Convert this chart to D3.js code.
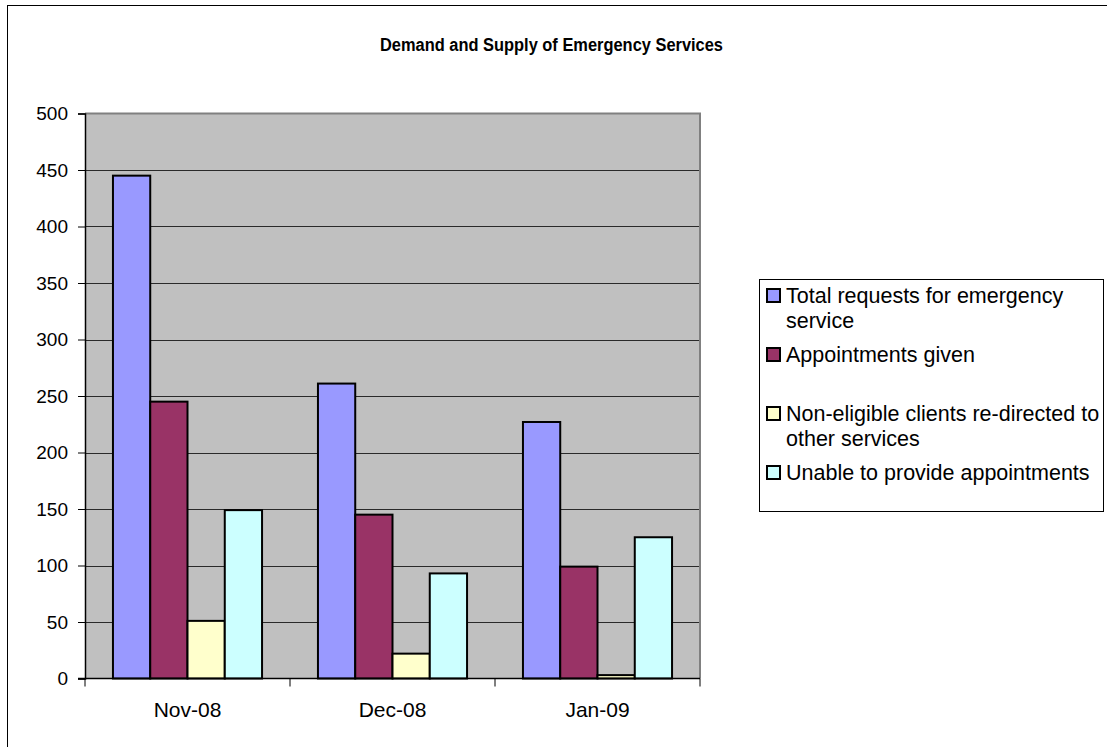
<!DOCTYPE html>
<html>
<head>
<meta charset="utf-8">
<script src="https://cdn.jsdelivr.net/npm/d3@7"></script>
<style>
  html, body { margin: 0; padding: 0; background: #fff; }
  svg { display: block; }
  text { font-family: "Liberation Sans", Arial, sans-serif; fill: #000; }
</style>
</head>
<body>
<svg id="chart" width="1107" height="747"></svg>
<script>
// Monthly figures for the emergency service
const categories = ["Nov-08", "Dec-08", "Jan-09"];
const seriesNames = [
  "Total requests for emergency service",
  "Appointments given",
  "Non-eligible clients re-directed to other services",
  "Unable to provide appointments"
];
const legendLines = [
  ["Total requests for emergency", "service"],
  ["Appointments given"],
  ["Non-eligible clients re-directed to", "other services"],
  ["Unable to provide appointments"]
];
const totalRequests = [445, 261, 227];
const appointmentsGiven = [245, 145, 99];
const nonEligible = [51, 22, 3];
const unableToProvide = [149, 93, 125];
const yTicks = [0, 50, 100, 150, 200, 250, 300, 350, 400, 450, 500];
const colors = ["#9999FF", "#993366", "#FFFFCC", "#CCFFFF"];

const seriesValues = [totalRequests, appointmentsGiven, nonEligible, unableToProvide];

const svg = d3.select("#chart");

// Outer chart frame
svg.append("rect")
  .attr("x", 7.5).attr("y", 5.5)
  .attr("width", 1130).attr("height", 780)
  .attr("fill", "#fff").attr("stroke", "#000").attr("stroke-width", 1);

// Title
svg.append("text")
  .attr("x", 551.5).attr("y", 51)
  .attr("text-anchor", "middle")
  .attr("font-weight", "bold")
  .attr("font-size", 17.5)
  .attr("textLength", 343)
  .attr("lengthAdjust", "spacingAndGlyphs")
  .text("Demand and Supply of Emergency Services");

// Plot area
const plot = { left: 85, right: 700, top: 113.5, bottom: 678.5 };

const y = d3.scaleLinear().domain([0, 500]).range([plot.bottom, plot.top]);
const x0 = d3.scaleBand().domain(categories).range([plot.left, plot.right]);
const bw = x0.bandwidth();
const slot = bw / 5.5;
const x1 = d3.scaleBand().domain(d3.range(seriesNames.length))
  .range([slot * 0.75, bw - slot * 0.75]);

svg.append("rect")
  .attr("x", plot.left).attr("y", plot.top)
  .attr("width", plot.right - plot.left).attr("height", plot.bottom - plot.top)
  .attr("fill", "#C0C0C0");

// Gridlines
svg.append("g")
  .selectAll("line")
  .data(yTicks.filter(t => t > 0 && t < 500))
  .join("line")
  .attr("x1", plot.left).attr("x2", plot.right)
  .attr("y1", d => Math.round(y(d)) + 0.5).attr("y2", d => Math.round(y(d)) + 0.5)
  .attr("stroke", "#2a2a2a").attr("stroke-width", 1);

// Plot border (top and right)
svg.append("path")
  .attr("d", `M${plot.left},${plot.top} H${plot.right} V${plot.bottom}`)
  .attr("fill", "none").attr("stroke", "#808080").attr("stroke-width", 2);

// Bars
const groups = svg.append("g")
  .selectAll("g")
  .data(categories)
  .join("g")
  .attr("transform", d => `translate(${x0(d)},0)`);

groups.selectAll("rect")
  .data((c, ci) => seriesValues.map((vals, si) => ({ si, v: vals[ci] })))
  .join("rect")
  .attr("x", d => x1(d.si))
  .attr("y", d => y(d.v))
  .attr("width", x1.bandwidth())
  .attr("height", d => y(0) - y(d.v))
  .attr("fill", d => colors[d.si])
  .attr("stroke", "#000")
  .attr("stroke-width", 2);

// Y axis
const yAxis = d3.axisLeft(y).tickValues(yTicks).tickSize(7).tickPadding(10);
const gy = svg.append("g")
  .attr("transform", `translate(${plot.left},0)`)
  .call(yAxis);
gy.select(".domain").attr("stroke", "#000").attr("stroke-width", 1.5);
gy.selectAll(".tick line").attr("stroke", "#000");
gy.selectAll(".tick text")
  .attr("font-family", "Liberation Sans, Arial, sans-serif")
  .attr("font-size", 19).attr("fill", "#000");

// X axis: ticks at category boundaries
const gx = svg.append("g")
  .attr("transform", `translate(0,${plot.bottom})`);
gx.append("line")
  .attr("x1", plot.left - 7).attr("x2", plot.right)
  .attr("stroke", "#000").attr("stroke-width", 1.5);
const boundaries = categories.map(c => x0(c)).concat([plot.right]);
gx.selectAll(".bt")
  .data(boundaries)
  .join("line")
  .attr("class", "bt")
  .attr("x1", d => d).attr("x2", d => d)
  .attr("y1", 0).attr("y2", 8)
  .attr("stroke", "#000");
gx.selectAll(".cl")
  .data(categories)
  .join("text")
  .attr("class", "cl")
  .attr("x", d => x0(d) + bw / 2)
  .attr("y", 38)
  .attr("text-anchor", "middle")
  .attr("font-size", 21)
  .text(d => d);

// Legend
const legend = svg.append("g");
legend.append("rect")
  .attr("x", 759.5).attr("y", 279.5)
  .attr("width", 344).attr("height", 232)
  .attr("fill", "#fff").attr("stroke", "#000").attr("stroke-width", 1);

const items = legend.selectAll(".item")
  .data(seriesNames)
  .join("g")
  .attr("class", "item")
  .attr("transform", (d, i) => `translate(0,${303 + i * 59})`);

items.append("rect")
  .attr("x", 767).attr("y", -14)
  .attr("width", 13).attr("height", 13)
  .attr("fill", (d, i) => colors[i])
  .attr("stroke", "#000").attr("stroke-width", 2);

items.each(function (d, i) {
  d3.select(this).selectAll("text")
    .data(legendLines[i])
    .join("text")
    .attr("x", 786)
    .attr("y", (t, li) => li * 24.5)
    .attr("font-size", 21.5)
    .text(t => t);
});
</script>
</body>
</html>
